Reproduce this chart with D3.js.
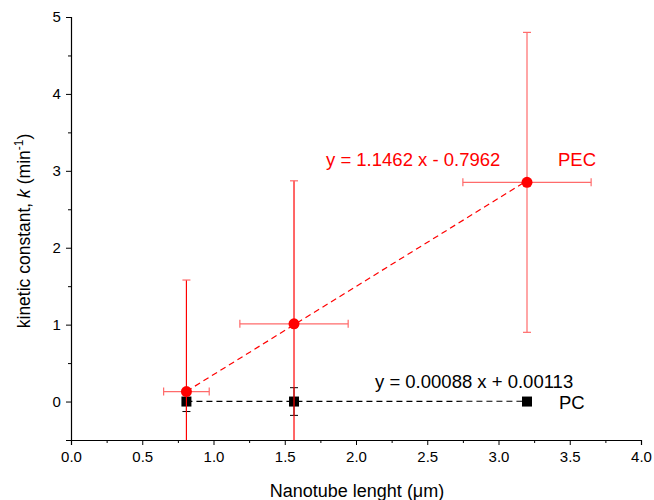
<!DOCTYPE html>
<html><head><meta charset="utf-8">
<script src="https://cdn.jsdelivr.net/npm/d3@7"></script>
<style>body{margin:0;background:#fff;font-family:Arial,"Liberation Sans",sans-serif;}</style>
</head><body>
<svg id="c" width="654" height="500"></svg>
<script>
const lengths = [0.81, 1.565, 3.2];
const pecK = [0.13, 1.01, 2.85];
const pecKErr = [1.45, 1.86, 1.95];
const pecLenErr = [0.16, 0.38, 0.45];
const pcK = [0.0, 0.0, 0.0];
const pcKErr = [0.13, 0.18, 0.03];
const pecFit = [1.1462, -0.7962];
const pcFit = [0.00088, 0.00113];
const xTicks = [0, 0.5, 1, 1.5, 2, 2.5, 3, 3.5, 4];
const yTicks = [0, 1, 2, 3, 4, 5];

const svg = d3.select("#c");
const L = 71, R = 641, T = 17, B = 440;
const x = d3.scaleLinear().domain([0, 4]).range([L, R]);
const y = d3.scaleLinear().domain([-0.5, 5]).range([B, T]);

svg.append("defs").append("clipPath").attr("id","clip")
  .append("rect").attr("x", L).attr("y", 0).attr("width", R - L + 20).attr("height", B);

// axes
const xAxis = d3.axisBottom(x).tickValues(xTicks).tickFormat(d3.format(".1f")).tickSizeOuter(0).tickSize(5);
const gx = svg.append("g").attr("transform", `translate(0,${B})`).call(xAxis);
gx.selectAll(".tick text").attr("font-size", 15).attr("font-family", "Arial, 'Liberation Sans'").attr("dy", "0.95em");
svg.append("g").attr("transform", `translate(0,${B})`)
  .call(d3.axisBottom(x).tickValues(d3.range(0.25, 4, 0.5)).tickFormat("").tickSizeOuter(0).tickSize(3))
  .select(".domain").remove();

const yAxis = d3.axisLeft(y).tickValues(yTicks).tickFormat(d3.format("d")).tickSizeOuter(0).tickSize(5);
const gy = svg.append("g").attr("transform", `translate(${L},0)`).call(yAxis);
gy.selectAll(".tick text").attr("font-size", 15).attr("font-family", "Arial, 'Liberation Sans'").attr("dx", "-0.15em");
svg.append("g").attr("transform", `translate(${L},0)`)
  .call(d3.axisLeft(y).tickValues([-0.5, 0.5, 1.5, 2.5, 3.5, 4.5]).tickFormat("").tickSizeOuter(0).tickSize(3))
  .select(".domain").remove();
svg.selectAll(".domain").attr("stroke", "#000").attr("stroke-width", 1.2);

// labels
svg.append("text").attr("x", 357).attr("y", 497).attr("text-anchor", "middle")
  .attr("font-size", 18).text("Nanotube lenght (μm)");
const yl = svg.append("text").attr("transform", "translate(30,231) rotate(-90)").attr("text-anchor", "middle").attr("font-size", 17.5);
yl.append("tspan").text("kinetic constant, ");
yl.append("tspan").attr("font-style", "italic").text("k");
yl.append("tspan").text("  (min");
yl.append("tspan").attr("font-size", 12).attr("dy", -7).text("-1");
yl.append("tspan").attr("dy", 7).text(")");

const plot = svg.append("g").attr("clip-path", "url(#clip)");

// fit lines
plot.append("line")
  .attr("x1", x(lengths[0])).attr("y1", y(pcFit[0]*lengths[0]+pcFit[1]))
  .attr("x2", x(lengths[2])).attr("y2", y(pcFit[0]*lengths[2]+pcFit[1]))
  .attr("stroke", "#000").attr("stroke-width", 1.2).attr("stroke-dasharray", "6,4");
plot.append("line")
  .attr("x1", x(lengths[0])).attr("y1", y(pecFit[0]*lengths[0]+pecFit[1]))
  .attr("x2", x(lengths[2])).attr("y2", y(pecFit[0]*lengths[2]+pecFit[1]))
  .attr("stroke", "red").attr("stroke-width", 1.2).attr("stroke-dasharray", "6,4");

// PC error bars + squares
lengths.forEach((l, i) => {
  const g = plot.append("g").attr("stroke", "#000").attr("stroke-width", 1);
  g.append("line").attr("x1", x(l)).attr("x2", x(l)).attr("y1", y(pcK[i]-pcKErr[i])).attr("y2", y(pcK[i]+pcKErr[i]));
  [pcK[i]-pcKErr[i], pcK[i]+pcKErr[i]].forEach(v => g.append("line").attr("x1", x(l)-4).attr("x2", x(l)+4).attr("y1", y(v)).attr("y2", y(v)));
  plot.append("rect").attr("x", x(l)-5).attr("y", y(pcK[i])-5).attr("width", 10).attr("height", 10).attr("fill", "#000");
});

// PEC error bars + circles
lengths.forEach((l, i) => {
  const g = plot.append("g").attr("stroke-width", 1.2);
  const cy = pecK[i];
  g.append("line").attr("stroke", i < 2 ? "#f00" : "#ff6b6b")
    .attr("x1", x(l)).attr("x2", x(l)).attr("y1", y(cy-pecKErr[i])).attr("y2", y(cy+pecKErr[i]));
  [cy-pecKErr[i], cy+pecKErr[i]].forEach(v => g.append("line").attr("stroke", "#ff6b6b").attr("x1", x(l)-4).attr("x2", x(l)+4).attr("y1", y(v)).attr("y2", y(v)));
  g.append("line").attr("stroke", "#ff6b6b")
    .attr("x1", x(l-pecLenErr[i])).attr("x2", x(l+pecLenErr[i])).attr("y1", y(cy)).attr("y2", y(cy));
  [l-pecLenErr[i], l+pecLenErr[i]].forEach(v => g.append("line").attr("stroke", "#ff6b6b").attr("x1", x(v)).attr("x2", x(v)).attr("y1", y(cy)-4).attr("y2", y(cy)+4));
  plot.append("circle").attr("cx", x(l)).attr("cy", y(cy)).attr("r", 5.5).attr("fill", "red");
});

// annotations
svg.append("text").attr("x", 326).attr("y", 166).attr("fill", "red").attr("font-size", 18.5)
  .text(`y = ${pecFit[0]} x - ${Math.abs(pecFit[1])}`);
svg.append("text").attr("x", 558).attr("y", 166).attr("fill", "red").attr("font-size", 18.5).text("PEC");
svg.append("text").attr("x", 375).attr("y", 388).attr("fill", "#000").attr("font-size", 18.5)
  .text(`y = ${pcFit[0].toFixed(5)} x + ${pcFit[1].toFixed(5)}`);
svg.append("text").attr("x", 559).attr("y", 409).attr("fill", "#000").attr("font-size", 18.5).text("PC");
</script>
</body></html>
